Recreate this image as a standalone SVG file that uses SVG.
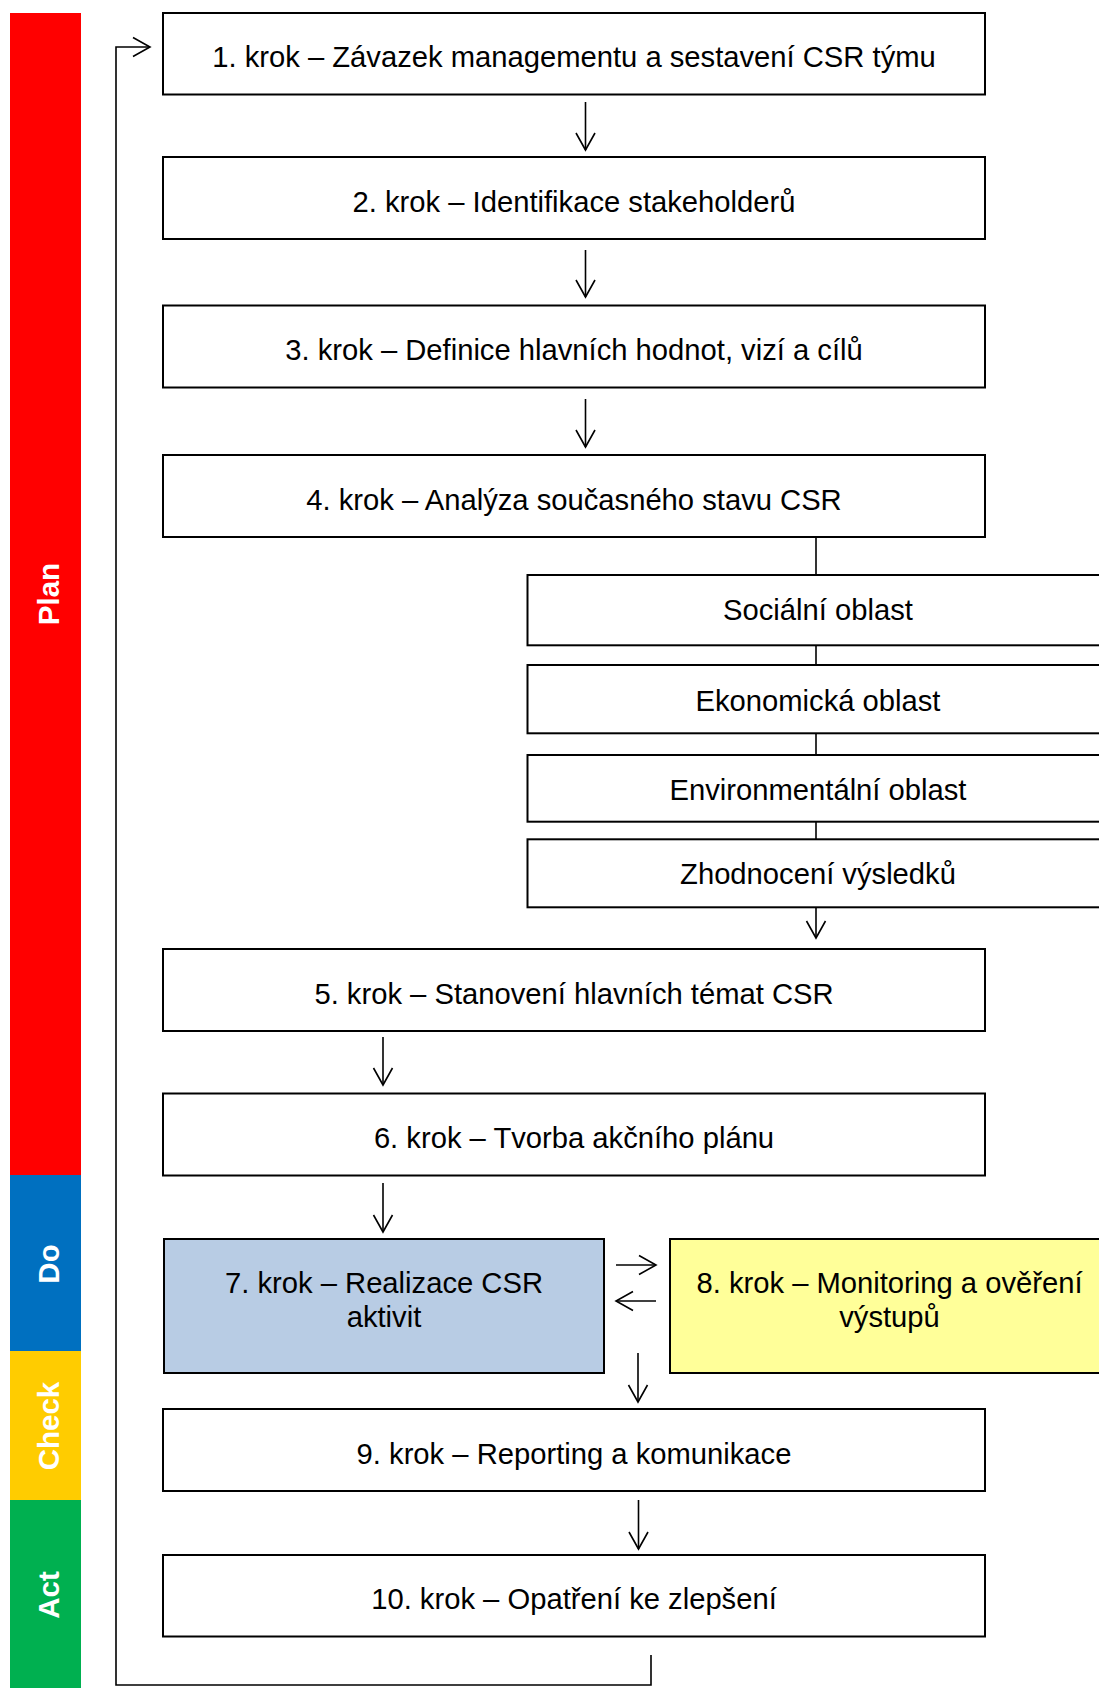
<svg xmlns="http://www.w3.org/2000/svg" width="1099" height="1688" viewBox="0 0 1099 1688">
<style>
.box{fill:#fff;stroke:#000;stroke-width:2}
.t{font-family:"Liberation Sans",Arial,sans-serif;font-size:29.2px;fill:#000;text-anchor:middle}
.lbl{font-family:"Liberation Sans",Arial,sans-serif;font-size:29.5px;font-weight:bold;fill:#fff;text-anchor:middle}
.ln{fill:none;stroke:#000;stroke-width:1.6}
.ar{fill:none;stroke:#000;stroke-width:1.6;marker-end:url(#ah)}
</style>
<defs>
<marker id="ah" viewBox="-19 -11 21 22" markerWidth="21" markerHeight="22" refX="0" refY="0" orient="auto" markerUnits="userSpaceOnUse">
<path d="M-17,-9.5 L0,0 L-17,9.5" fill="none" stroke="#000" stroke-width="1.6"/>
</marker>
</defs>
<rect width="1099" height="1688" fill="#fff"/>
<g id="phase-plan"><rect x="10" y="13" width="71" height="1162" fill="#FF0000"/><text class="lbl" transform="translate(58.5,594) rotate(-90)">Plan</text></g>
<g id="phase-do"><rect x="10" y="1175" width="71" height="176" fill="#0070C0"/><text class="lbl" transform="translate(58.5,1264) rotate(-90)">Do</text></g>
<g id="phase-check"><rect x="10" y="1351" width="71" height="149" fill="#FFCC00"/><text class="lbl" transform="translate(58.5,1426) rotate(-90)">Check</text></g>
<g id="phase-act"><rect x="10" y="1500" width="71" height="188" fill="#00B050"/><text class="lbl" transform="translate(58.5,1595) rotate(-90)">Act</text></g>

<g id="connectors">
<path class="ar" d="M585.5,102 V150"/>
<path class="ar" d="M585.5,250 V297"/>
<path class="ar" d="M585.5,399 V447"/>
<path class="ln" d="M816,537 V575"/>
<path class="ln" d="M816,645 V665"/>
<path class="ln" d="M816,733 V755"/>
<path class="ln" d="M816,822 V839"/>
<path class="ar" d="M816,907 V938"/>
<path class="ar" d="M383,1037 V1085"/>
<path class="ar" d="M383,1183 V1232"/>
<path class="ar" d="M616,1265 H656"/>
<path class="ar" d="M656,1301 H616"/>
<path class="ar" d="M638,1353 V1402"/>
<path class="ar" d="M638.5,1500 V1549"/>
<path class="ar" d="M651,1655 V1685 H116 V47 H150"/>
</g>

<g id="step1"><rect class="box" x="163" y="13" width="822" height="81.5"/><text class="t" x="574" y="67">1. krok – Závazek managementu a sestavení CSR týmu</text></g>
<g id="step2"><rect class="box" x="163" y="157" width="822" height="82"/><text class="t" x="574" y="211.5">2. krok – Identifikace stakeholderů</text></g>
<g id="step3"><rect class="box" x="163" y="305.5" width="822" height="82"/><text class="t" x="574" y="360">3. krok – Definice hlavních hodnot, vizí a cílů</text></g>
<g id="step4"><rect class="box" x="163" y="455" width="822" height="82"/><text class="t" x="574" y="509.5">4. krok – Analýza současného stavu CSR</text></g>
<g id="area-social"><rect class="box" x="527.5" y="575" width="582" height="70.3"/><text class="t" x="818" y="620">Sociální oblast</text></g>
<g id="area-economic"><rect class="box" x="527.5" y="665" width="582" height="68.3"/><text class="t" x="818" y="710.5">Ekonomická oblast</text></g>
<g id="area-environment"><rect class="box" x="527.5" y="755" width="582" height="66.7"/><text class="t" x="818" y="800">Environmentální oblast</text></g>
<g id="evaluation"><rect class="box" x="527.5" y="839.3" width="582" height="68"/><text class="t" x="818" y="884.3">Zhodnocení výsledků</text></g>
<g id="step5"><rect class="box" x="163" y="949" width="822" height="82"/><text class="t" x="574" y="1003.5">5. krok – Stanovení hlavních témat CSR</text></g>
<g id="step6"><rect class="box" x="163" y="1093.5" width="822" height="82"/><text class="t" x="574" y="1148">6. krok – Tvorba akčního plánu</text></g>
<g id="step7"><rect class="box" x="164" y="1239" width="440" height="134" style="fill:#B8CCE4"/><text class="t" x="384" y="1293.3">7. krok – Realizace CSR</text><text class="t" x="384" y="1326.7">aktivit</text></g>
<g id="step8"><rect class="box" x="670" y="1239" width="440" height="134" style="fill:#FFFF99"/><text class="t" x="889.5" y="1293.3">8. krok – Monitoring a ověření</text><text class="t" x="889.5" y="1326.7">výstupů</text></g>
<g id="step9"><rect class="box" x="163" y="1409" width="822" height="82"/><text class="t" x="574" y="1463.5">9. krok – Reporting a komunikace</text></g>
<g id="step10"><rect class="box" x="163" y="1555" width="822" height="81.5"/><text class="t" x="574" y="1609">10. krok – Opatření ke zlepšení</text></g>
</svg>
